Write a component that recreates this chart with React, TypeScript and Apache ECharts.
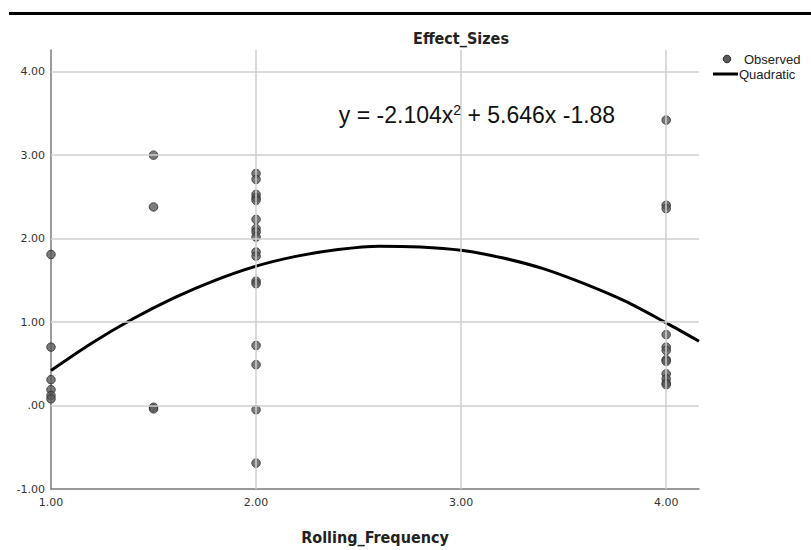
import React, { useEffect, useRef } from "react";
import * as echarts from "echarts";

// Observed effect sizes grouped by rolling frequency
const frequencies = [1, 1.5, 2, 4];
const effectsAt1 = [1.81, 0.7, 0.31, 0.19, 0.12, 0.08];
const effectsAt15 = [3.0, 2.38, -0.02, -0.04];
const effectsAt2 = [2.78, 2.71, 2.53, 2.49, 2.46, 2.23, 2.12, 2.08, 2.02, 1.84, 1.79, 1.49, 1.46, 0.72, 0.49, -0.05, -0.69];
const effectsAt4 = [3.42, 2.4, 2.36, 0.85, 0.7, 0.66, 0.55, 0.53, 0.38, 0.32, 0.27, 0.25];

// Quadratic fit line as drawn
const curveX = [1, 1.2, 1.4, 1.6, 1.8, 2, 2.2, 2.4, 2.6, 2.8, 3, 3.2, 3.4, 3.6, 3.8, 4, 4.16];
const curveY = [0.42, 0.75, 1.04, 1.29, 1.5, 1.67, 1.79, 1.87, 1.91, 1.9, 1.86, 1.77, 1.64, 1.46, 1.25, 0.99, 0.77];

// Axis ticks / gridlines
const xGridTicks = [2, 3, 4];
const yGridTicks = [0, 1, 2, 3, 4];

const titleText = "Effect_Sizes";
const xAxisTitle = "Rolling_Frequency";
const legendLabels = ["Observed", "Quadratic"];

export default function App() {
  const ref = useRef<HTMLDivElement>(null);
  useEffect(() => {
    if (!ref.current) return;
    const chart = echarts.init(ref.current, null, { renderer: "svg" });
    const groups = [effectsAt1, effectsAt15, effectsAt2, effectsAt4];
    const observed: number[][] = [];
    groups.forEach((g, i) => g.forEach((v) => observed.push([frequencies[i], v])));
    const curve = curveX.map((x, i) => [x, curveY[i]]);
    const fmt = (v: number) => (v === 0 ? ".00" : v.toFixed(2));
    const labelFont = { fontFamily: "DejaVu Sans", fontSize: 11, color: "#333" };
    chart.setOption({
      animation: false,
      grid: { left: 51, right: 112, top: 50, bottom: 54 },
      xAxis: {
        type: "value",
        min: 1,
        max: 4.16,
        interval: 1,
        name: xAxisTitle,
        nameLocation: "middle",
        nameGap: 40,
        nameTextStyle: { fontFamily: "DejaVu Sans Condensed", fontWeight: "bold", fontSize: 16, color: "#222" },
        axisLine: { onZero: false, lineStyle: { color: "#7a7a7a", width: 1.5 } },
        axisTick: { show: false },
        splitLine: { show: false },
        axisLabel: { ...labelFont, margin: 8, showMaxLabel: false, formatter: fmt },
      },
      yAxis: {
        type: "value",
        min: -1,
        max: 4.26,
        interval: 1,
        axisLine: { show: true, onZero: false, lineStyle: { color: "#7a7a7a", width: 1.5 } },
        axisTick: { show: false },
        splitLine: { show: false },
        axisLabel: { ...labelFont, margin: 6, showMaxLabel: false, formatter: fmt },
      },
      series: [
        {
          type: "line",
          name: "grid",
          z: 1,
          data: [],
          silent: true,
          markLine: {
            silent: true,
            symbol: "none",
            animation: false,
            label: { show: false },
            lineStyle: { color: "#cfcfcf", width: 1.5, type: "solid" },
            data: [
              ...xGridTicks.map((v) => ({ xAxis: v })),
              ...yGridTicks.map((v) => ({ yAxis: v })),
            ],
          },
        },
        {
          type: "scatter",
          name: legendLabels[0],
          z: 3,
          data: observed,
          symbolSize: 8.5,
          itemStyle: { color: "#5a5a5a", borderColor: "#2a2a2a", borderWidth: 1 },
        },
        {
          type: "line",
          name: legendLabels[1],
          z: 4,
          data: curve,
          smooth: 0.3,
          symbol: "none",
          lineStyle: { color: "#000", width: 3 },
        },
      ],
      graphic: [
        { type: "rect", z: 10, shape: { x: 9, y: 12, width: 802, height: 3 }, style: { fill: "#000" } },
        {
          type: "text",
          z: 10,
          x: 461,
          y: 38,
          style: {
            text: titleText,
            font: 'bold 16px "DejaVu Sans Condensed"',
            fill: "#222",
            textAlign: "center",
            textVerticalAlign: "middle",
          },
        },
        { type: "rect", z: 2, shape: { x: 325, y: 88, width: 305, height: 64 }, style: { fill: "#fff" } },
        {
          type: "text",
          z: 10,
          x: 477,
          y: 115,
          style: {
            text: "y = -2.104x{s|2} + 5.646x -1.88",
            font: '23px "Liberation Sans"',
            fill: "#111",
            textAlign: "center",
            textVerticalAlign: "middle",
            rich: {
              s: { fontSize: 14, fontFamily: "Liberation Sans", verticalAlign: "top", padding: [0, 0, 11, 0], fill: "#111" },
            },
          },
        },
        { type: "circle", z: 10, shape: { cx: 727, cy: 59, r: 3.8 }, style: { fill: "#5a5a5a", stroke: "#2a2a2a", lineWidth: 1 } },
        { type: "line", z: 10, shape: { x1: 713, y1: 74, x2: 738, y2: 74 }, style: { stroke: "#000", lineWidth: 3 } },
        {
          type: "text",
          z: 10,
          x: 744,
          y: 59,
          style: { text: legendLabels[0], font: '13px "Liberation Sans"', fill: "#222", textVerticalAlign: "middle" },
        },
        {
          type: "text",
          z: 10,
          x: 739,
          y: 74,
          style: { text: legendLabels[1], font: '13px "Liberation Sans"', fill: "#222", textVerticalAlign: "middle" },
        },
      ],
    });
    return () => chart.dispose();
  }, []);
  return <div ref={ref} style={{ position: "absolute", left: 0, top: 0, width: 811, height: 550 }} />;
}
